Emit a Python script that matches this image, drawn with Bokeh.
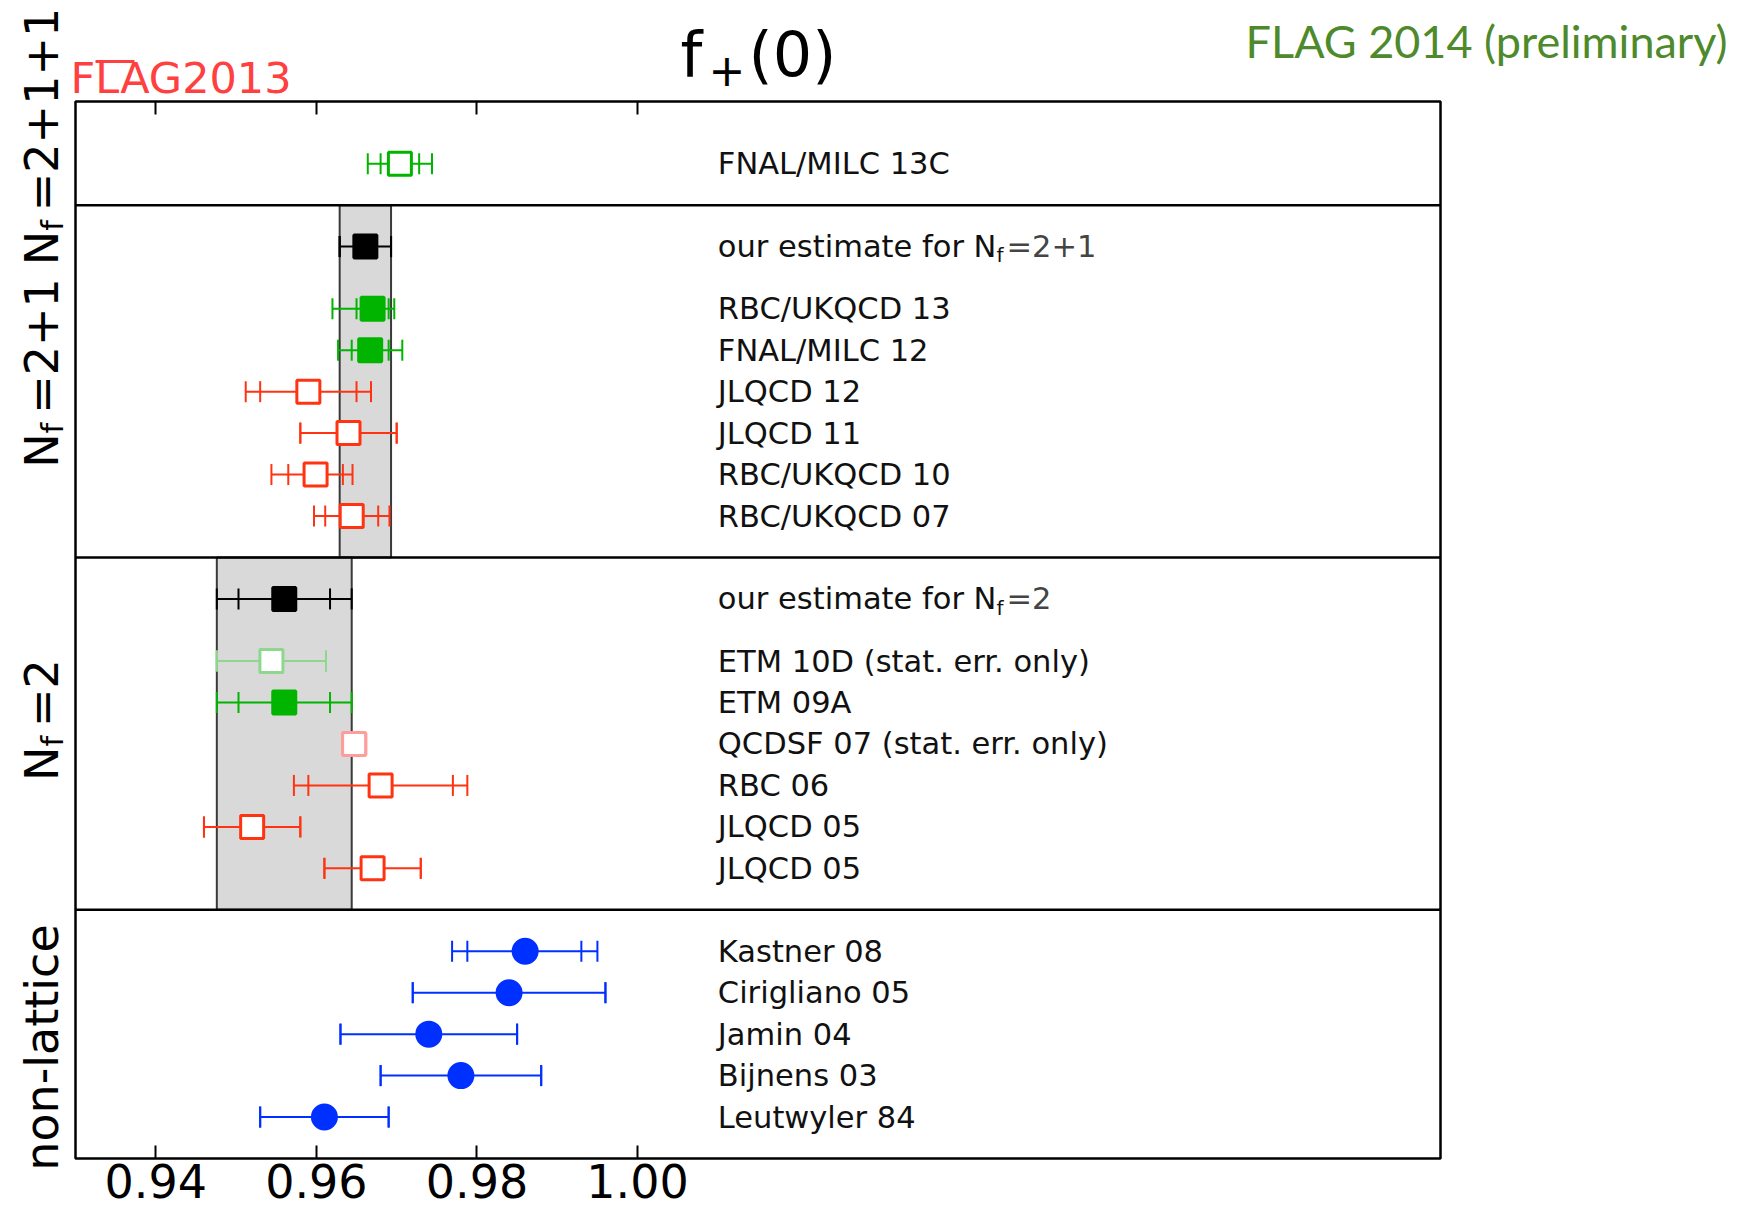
import numpy as np
from bokeh.plotting import figure
from bokeh.models import FixedTicker, LinearAxis, PrintfTickFormatter
from bokeh.core.properties import value
from bokeh.embed import file_html
from bokeh.resources import INLINE

# ---------------- data ----------------
labels = ["FNAL/MILC 13C",
          "our estimate for N_f=2+1", "RBC/UKQCD 13", "FNAL/MILC 12", "JLQCD 12",
          "JLQCD 11", "RBC/UKQCD 10", "RBC/UKQCD 07",
          "our estimate for N_f=2", "ETM 10D (stat. err. only)", "ETM 09A",
          "QCDSF 07 (stat. err. only)", "RBC 06", "JLQCD 05", "JLQCD 05",
          "Kastner 08", "Cirigliano 05", "Jamin 04", "Bijnens 03", "Leutwyler 84"]
rows = [24, 22, 20.5, 19.5, 18.5, 17.5, 16.5, 15.5,
        13.5, 12, 11, 10, 9, 8, 7,
        5, 4, 3, 2, 1]
central = [0.9704, 0.9661, 0.9670, 0.9667, 0.959, 0.964, 0.9599, 0.9644,
           0.9560, 0.9544, 0.9560, 0.9647, 0.968, 0.952, 0.967,
           0.986, 0.984, 0.974, 0.978, 0.961]
stat_minus = [0.0024, 0.0032, 0.0020, 0.0023, 0.006, 0.006, 0.0034, 0.0033,
              0.0057, 0.0068, 0.0057, 0.0015, 0.009, 0.006, 0.006,
              0.0072, 0.012, 0.011, 0.010, 0.008]
stat_plus = [0.0024, 0.0032, 0.0020, 0.0023, 0.006, 0.006, 0.0034, 0.0033,
             0.0057, 0.0068, 0.0057, 0.0015, 0.009, 0.006, 0.006,
             0.0070, 0.012, 0.011, 0.010, 0.008]
tot_minus = [0.0040, 0.0032, 0.0050, 0.0040, 0.0078, 0.006, 0.0055, 0.0047,
             0.0084, 0.0068, 0.0084, 0.0015, 0.0108, 0.006, 0.006,
             0.0091, 0.012, 0.011, 0.010, 0.008]
tot_plus = [0.0040, 0.0032, 0.0027, 0.0040, 0.0078, 0.006, 0.0046, 0.0047,
            0.0084, 0.0068, 0.0084, 0.0015, 0.0108, 0.006, 0.006,
            0.0090, 0.012, 0.011, 0.010, 0.008]
kind = ["green_open", "black_filled", "green_filled", "green_filled", "red_open",
        "red_open", "red_open", "red_open",
        "black_filled", "lgreen_open", "green_filled", "lred_open", "red_open",
        "red_open", "red_open",
        "blue_circle", "blue_circle", "blue_circle", "blue_circle", "blue_circle"]

band_rows = [1, 8]                       # FLAG averages -> grey bands
panel_edges = [0, 6, 14.5, 23, 25.5]
band_panels = [(14.5, 23), (6, 14.5)]
group_labels = ["non-lattice", "N_f=2", "N_f=2+1", "N_f=2+1+1"]
tick_values = [0.94, 0.96, 0.98, 1.00]
XLIM = (0.93, 1.10)
YLIM = (0.0, 25.5)
label_x = 1.01

# ---------------- styles ----------------
GREEN, RED, LGREEN, LRED, BLUE, BLACK = "#00b400", "#ff3311", "#8fd68f", "#ff9c9c", "#0030ff", "#000000"
style = {
    "green_open": (GREEN, "white", "square"),
    "green_filled": (GREEN, GREEN, "square"),
    "red_open": (RED, "white", "square"),
    "black_filled": (BLACK, BLACK, "square"),
    "lgreen_open": (LGREEN, "white", "square"),
    "lred_open": (LRED, "white", "square"),
    "blue_circle": (BLUE, BLUE, "circle"),
}

Wd = {' ': 318, '(': 390, ')': 390, '+': 838, '-': 361, '.': 318, '/': 337, '=': 838,
      'A': 684, 'B': 686, 'C': 698, 'D': 770, 'E': 632, 'F': 575, 'G': 775, 'I': 295,
      'J': 295, 'K': 656, 'L': 557, 'M': 863, 'N': 748, 'Q': 787, 'R': 695, 'S': 635,
      'T': 611, 'U': 732, 'a': 613, 'c': 550, 'e': 615, 'f': 352, 'i': 278, 'l': 278,
      'm': 974, 'n': 634, 'o': 612, 'r': 411, 's': 521, 't': 392, 'u': 634, 'y': 592}
for d in "0123456789":
    Wd[d] = 636


def tw(s, fs):
    return sum(Wd.get(c, 600) for c in s) / 1000.0 * fs


# page geometry (pixels): plot box inside the canvas
W, H = 1739, 1211
FL, FR, FT, FB = 75, 1440, 101, 1158
kx = (FR - FL) / (XLIM[1] - XLIM[0])
ky = (FB - FT) / (YLIM[1] - YLIM[0])
x_range = (XLIM[0] - FL / kx, XLIM[1] + (W - FR) / kx)
y_range = (YLIM[0] - (H - FB) / ky, YLIM[1] + FT / ky)


def sx(px):
    return x_range[0] + px / kx


def sy(py):
    return y_range[1] - py / ky


p = figure(width=W, height=H, x_range=x_range, y_range=y_range, title=None,
           output_backend="svg", toolbar_location=None,
           x_axis_location=None, y_axis_location=None,
           min_border_left=0, min_border_right=0, min_border_top=0, min_border_bottom=0)
p.grid.visible = False
p.outline_line_color = None
p.background_fill_color = "white"
p.border_fill_color = "white"

bottom = LinearAxis(fixed_location=YLIM[0], ticker=FixedTicker(ticks=tick_values),
                    formatter=PrintfTickFormatter(format="%.2f"),
                    major_tick_in=13, major_tick_out=0, major_tick_line_width=2,
                    minor_tick_line_color=None, axis_line_color=None,
                    major_label_text_font="DejaVu Sans", major_label_text_font_size="46px",
                    major_label_text_color="black", major_label_standoff=5)
p.add_layout(bottom, "below")
top = LinearAxis(fixed_location=YLIM[1], ticker=FixedTicker(ticks=tick_values),
                 major_tick_in=13, major_tick_out=0, major_tick_line_width=2,
                 minor_tick_line_color=None, axis_line_color=None,
                 major_label_text_alpha=0, major_label_text_font_size="8px")
p.add_layout(top, "above")

# grey bands for FLAG averages
for bi, (b0, b1) in zip(band_rows, band_panels):
    p.quad(left=[central[bi] - tot_minus[bi]], right=[central[bi] + tot_plus[bi]],
           bottom=[b0], top=[b1], fill_color="#d9d9d9", line_color="#3a3a3a", line_width=2)

colors = [style[k][0] for k in kind]
fills = [style[k][1] for k in kind]
c = np.array(central)
lo_t = c - np.array(tot_minus)
hi_t = c + np.array(tot_plus)
lo_s = c - np.array(stat_minus)
hi_s = c + np.array(stat_plus)

p.segment(x0=lo_t, y0=rows, x1=hi_t, y1=rows, line_color=colors, line_width=2)
p.scatter(x=np.concatenate([lo_t, hi_t, lo_s, hi_s]), y=rows * 4, marker="dash",
          angle=np.pi / 2, size=21, line_color=colors * 4, line_width=2)

sq = [i for i, k in enumerate(kind) if style[k][2] == "square"]
ci = [i for i, k in enumerate(kind) if style[k][2] == "circle"]
p.scatter(x=[central[i] for i in sq], y=[rows[i] for i in sq], marker="square", size=23,
          fill_color=[fills[i] for i in sq], line_color=[colors[i] for i in sq], line_width=3)
p.scatter(x=[central[i] for i in ci], y=[rows[i] for i in ci], marker="circle", size=25,
          fill_color=[fills[i] for i in ci], line_color=[colors[i] for i in ci], line_width=2)

# panel dividers and plot box
inner = panel_edges[1:-1]
p.segment(x0=[XLIM[0]] * len(inner), x1=[XLIM[1]] * len(inner), y0=inner, y1=inner,
          line_color="black", line_width=2.5)
p.quad(left=[XLIM[0]], right=[XLIM[1]], bottom=[YLIM[0]], top=[YLIM[1]],
       fill_color=None, line_color="black", line_width=2.5)

# data labels (text vertically centred on the row)
FS = 30.5
MID = 0.346   # em offset baseline -> middle
plain = [i for i, s in enumerate(labels) if "_f" not in s]
p.text(x=[label_x] * len(plain), y=[rows[i] for i in plain],
       text=[labels[i] for i in plain], text_font=value("DejaVu Sans"),
       text_font_size=value(f"{FS}px"), text_color="#111111",
       text_align="left", text_baseline="middle")
for i, s in enumerate(labels):
    if "_f" not in s:
        continue
    pre, post = s.split("_f")
    x1 = label_x + tw(pre, FS) / kx
    x2 = x1 + (tw("f", 20) + 3) / kx
    base = rows[i] - MID * FS / ky
    p.text(x=[label_x], y=[rows[i]], text=[pre], text_font=value("DejaVu Sans"),
           text_font_size=value(f"{FS}px"), text_color="#111111", text_baseline="middle")
    p.text(x=[x1], y=[base - 5 / ky + MID * 20 / ky], text=["f"], text_font=value("DejaVu Sans"),
           text_font_size=value("20px"), text_color="#111111", text_baseline="middle")
    p.text(x=[x2], y=[rows[i]], text=[post], text_font=value("DejaVu Sans"),
           text_font_size=value(f"{FS}px"), text_color="#444444", text_baseline="middle")

# rotated group labels at the left
group_centers_px = [1047, 719.5, 372.5, 136]
GFS, SFS = 46, 30
BASE_X = 57
for text, cpx in zip(group_labels, group_centers_px):
    if "_f" in text:
        pre, post = text.split("_f")
        pieces = [(pre, GFS, 0, 0), ("f", SFS, 5, 9), (post, GFS, 0, 0)]
    else:
        pieces = [(text, GFS, 0, 0)]
    total = sum(tw(t, f) + g for t, f, _, g in pieces)
    cur = cpx + total / 2
    for t, f, shift, gap in pieces:
        p.text(x=[sx(BASE_X + shift - MID * f)], y=[sy(cur)], text=[t], angle=np.pi / 2,
               text_align="left", text_baseline="middle", text_font=value("DejaVu Sans"),
               text_font_size=value(f"{f}px"), text_color="black")
        cur -= tw(t, f) + gap

# title f_+(0)
p.text(x=[sx(680)], y=[sy(75 - MID * 62)], text=["f"], text_font=value("DejaVu Sans"),
       text_font_size=value("62px"), text_baseline="middle", text_color="black")
p.text(x=[sx(708)], y=[sy(84 - MID * 44)], text=["+"], text_font=value("DejaVu Sans"),
       text_font_size=value("44px"), text_baseline="middle", text_color="black")
p.text(x=[sx(748)], y=[sy(75 - MID * 62)], text=["(0)"], text_font=value("DejaVu Sans"),
       text_font_size=value("62px"), text_baseline="middle", text_color="black")

# FLAG 2013 logo text
p.text(x=[sx(70)], y=[sy(92 - MID * 43)], text=["FLAG2013"], text_font=value("DejaVu Sans"),
       text_font_size=value("43px"), text_baseline="middle", text_color="#ff4040")
p.segment(x0=[sx(95)], x1=[sx(134)], y0=[sy(61)], y1=[sy(61)], line_color="#ff4040", line_width=3)

# FLAG 2014 (preliminary)
p.text(x=[sx(1727)], y=[sy(58 - 0.38 * 45)], text=["FLAG 2014 (preliminary)"],
       text_font=value("Lato"), text_font_size=value("45px"), text_align="right",
       text_baseline="middle", text_color="#4e8a2c")

open("out.html", "w").write(file_html(p, INLINE))
